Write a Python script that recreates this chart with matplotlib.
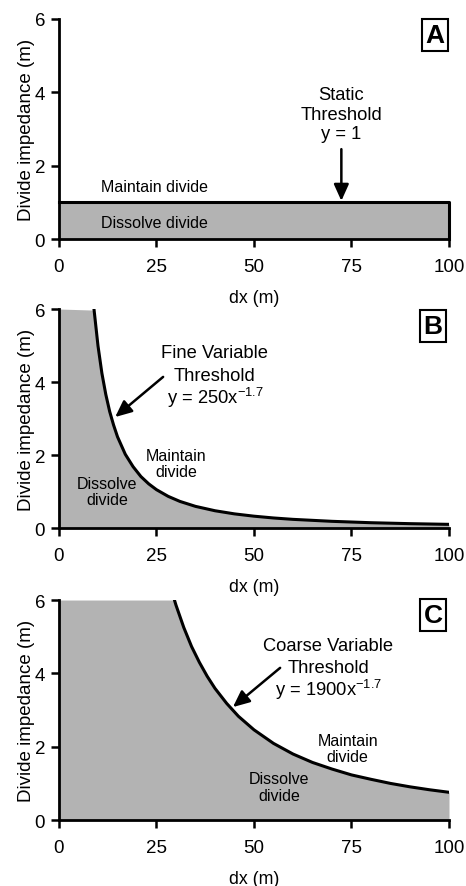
import matplotlib
matplotlib.use('Agg')
import matplotlib.pyplot as plt

plt.rcParams['font.family'] = ['Liberation Sans', 'DejaVu Sans']

# values
x_ticks = [0, 25, 50, 75, 100]
y_ticks = [0, 2, 4, 6]

static_x = [0, 100, 100]
static_y = [1, 1, 0]

fine_x = [9, 10, 11, 12, 13, 14, 15, 17, 19, 21, 23, 25, 28, 31, 35, 40,
          45, 50, 55, 60, 70, 80, 90, 100]
fine_y = [5.97, 4.99, 4.24, 3.66, 3.19, 2.82, 2.50, 2.02, 1.68, 1.41, 1.21,
          1.05, 0.867, 0.729, 0.593, 0.473, 0.387, 0.324, 0.275, 0.237,
          0.183, 0.145, 0.119, 0.100]

coarse_x = [29.6, 30, 32, 34, 36, 38, 40, 43, 46, 50, 55, 60, 65, 70, 75,
            80, 85, 90, 95, 100]
coarse_y = [6.00, 5.86, 5.25, 4.73, 4.30, 3.92, 3.59, 3.18, 2.83, 2.46, 2.09,
            1.80, 1.57, 1.39, 1.23, 1.11, 0.998, 0.905, 0.825, 0.756]

GREY = '#b3b3b3'
ARROW = dict(arrowstyle='-|>,head_width=0.45,head_length=1.0',
             color='black', lw=1.8, shrinkA=0, shrinkB=0)

fig = plt.figure(figsize=(4.66, 8.87), dpi=100)
ax1 = fig.add_axes([0.1266, 0.7294, 0.8369, 0.2481])
ax2 = fig.add_axes([0.1266, 0.4036, 0.8369, 0.2469])
ax3 = fig.add_axes([0.1266, 0.0744, 0.8369, 0.2480])


def style(ax, letter, lx, ly):
    ax.set_xlim(0, 100)
    ax.set_ylim(0, 6)
    ax.set_xticks(x_ticks)
    ax.set_yticks(y_ticks)
    for s in ['top', 'right']:
        ax.spines[s].set_visible(False)
    for s in ['left', 'bottom']:
        ax.spines[s].set_linewidth(2.0)
    ax.tick_params(width=1.8, length=6, labelsize=13.5)
    ax.tick_params(axis='x', pad=8)
    ax.tick_params(axis='y', pad=4)
    ax.set_xlabel('dx (m)', fontsize=12.8, labelpad=10)
    ax.set_ylabel('Divide impedance (m)', fontsize=13.5, labelpad=0)
    ax.text(lx, ly, letter, fontsize=19, fontweight='bold', ha='center',
            va='center',
            bbox=dict(boxstyle='square,pad=0.14', fc='white', ec='black', lw=1.5))


# A
ax1.fill_between(static_x[:2], 0, static_y[:2], color=GREY, lw=0)
ax1.plot(static_x, static_y, color='black', lw=2.2, clip_on=False)
style(ax1, 'A', 96.4, 5.56)
ax1.text(10.7, 1.42, 'Maintain divide', fontsize=11.5, va='center')
ax1.text(10.7, 0.46, 'Dissolve divide', fontsize=11.5, va='center')
ax1.text(72.4, 3.40, 'Static\nThreshold\ny = 1', fontsize=13.2, ha='center',
         va='center', linespacing=1.2)
ax1.annotate('', xy=(72.4, 1.04), xytext=(72.4, 2.45), arrowprops=ARROW)

# B
ax2.fill_between([0] + fine_x, 0, [6] + fine_y, color=GREY, lw=0)
ax2.plot(fine_x, fine_y, color='black', lw=2.2)
style(ax2, 'B', 95.9, 5.53)
ax2.text(40, 4.81, 'Fine Variable', fontsize=13.2, ha='center', va='center')
ax2.text(40, 4.19, 'Threshold', fontsize=13.2, ha='center', va='center')
ax2.text(40, 3.58, 'y = 250x$^{\\mathregular{-1.7}}$', fontsize=13.2,
         ha='center', va='center')
ax2.annotate('', xy=(14.4, 3.04), xytext=(26.7, 4.14), arrowprops=ARROW)
ax2.text(30, 1.77, 'Maintain\ndivide', fontsize=11.5, ha='center',
         va='center', linespacing=1.15)
ax2.text(12.3, 1.0, 'Dissolve\ndivide', fontsize=11.5, ha='center',
         va='center', linespacing=1.15)

# C
ax3.fill_between([0] + coarse_x, 0, [6] + coarse_y, color=GREY, lw=0)
ax3.plot(coarse_x, coarse_y, color='black', lw=2.2)
style(ax3, 'C', 95.9, 5.59)
ax3.text(69, 4.75, 'Coarse Variable', fontsize=13.2, ha='center', va='center')
ax3.text(69, 4.15, 'Threshold', fontsize=13.2, ha='center', va='center')
ax3.text(69, 3.58, 'y = 1900x$^{\\mathregular{-1.7}}$', fontsize=13.2,
         ha='center', va='center')
ax3.annotate('', xy=(44.6, 3.08), xytext=(56.7, 4.15), arrowprops=ARROW)
ax3.text(74, 1.95, 'Maintain\ndivide', fontsize=11.5, ha='center',
         va='center', linespacing=1.15)
ax3.text(56.4, 0.91, 'Dissolve\ndivide', fontsize=11.5, ha='center',
         va='center', linespacing=1.15)

fig.savefig('out.png', dpi=100)
